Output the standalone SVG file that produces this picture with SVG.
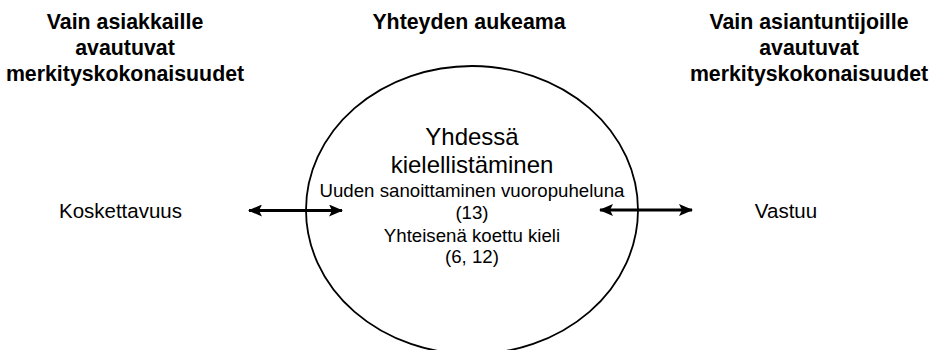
<svg xmlns="http://www.w3.org/2000/svg" width="931" height="350" viewBox="0 0 931 350">
<defs>
<style>
.hd{font-family:"Liberation Sans",Arial,sans-serif;font-weight:bold;font-size:21.33px;fill:#000;text-anchor:middle}
.big{font-family:"Liberation Sans",Arial,sans-serif;font-size:24px;fill:#000;text-anchor:middle}
.sm{font-family:"Liberation Sans",Arial,sans-serif;font-size:18.67px;fill:#000;text-anchor:middle}
.side{font-family:"Liberation Sans",Arial,sans-serif;font-size:20.5px;fill:#000;text-anchor:middle}
.conn{stroke:#000;stroke-width:3;fill:none}
</style>
<marker id="ah" viewBox="0 0 14 12" refX="13" refY="6" markerWidth="14" markerHeight="12" markerUnits="userSpaceOnUse" orient="auto-start-reverse">
<path d="M0,0 L14,6 L0,12 L3,6 Z" fill="#000"/>
</marker>
</defs>
<rect width="931" height="350" fill="#fff"/>
<g id="header-left">
<text class="hd" x="125" y="28.5">Vain asiakkaille</text>
<text class="hd" x="125" y="55">avautuvat</text>
<text class="hd" x="125" y="81">merkityskokonaisuudet</text>
</g>
<g id="header-center">
<text class="hd" x="469" y="28.5">Yhteyden aukeama</text>
</g>
<g id="header-right">
<text class="hd" x="809" y="28.5">Vain asiantuntijoille</text>
<text class="hd" x="809" y="55">avautuvat</text>
<text class="hd" x="809" y="81">merkityskokonaisuudet</text>
</g>
<g id="center-ellipse">
<ellipse cx="472" cy="210" rx="166" ry="144" fill="none" stroke="#000" stroke-width="1.8"/>
<text class="big" x="472" y="145">Yhdessä</text>
<text class="big" x="472" y="173">kielellistäminen</text>
<text class="sm" x="472" y="197">Uuden sanoittaminen vuoropuheluna</text>
<text class="sm" x="472" y="219">(13)</text>
<text class="sm" x="472" y="241.5">Yhteisenä koettu kieli</text>
<text class="sm" x="472" y="263">(6, 12)</text>
</g>
<g id="node-koskettavuus">
<text class="side" x="120.5" y="218">Koskettavuus</text>
</g>
<g id="node-vastuu">
<text class="side" x="786" y="218">Vastuu</text>
</g>
<g id="connectors">
<line class="conn" x1="249" y1="210.5" x2="342" y2="210.5" marker-start="url(#ah)" marker-end="url(#ah)"/>
<line class="conn" x1="600" y1="210" x2="692" y2="210" marker-start="url(#ah)" marker-end="url(#ah)"/>
</g>
</svg>
